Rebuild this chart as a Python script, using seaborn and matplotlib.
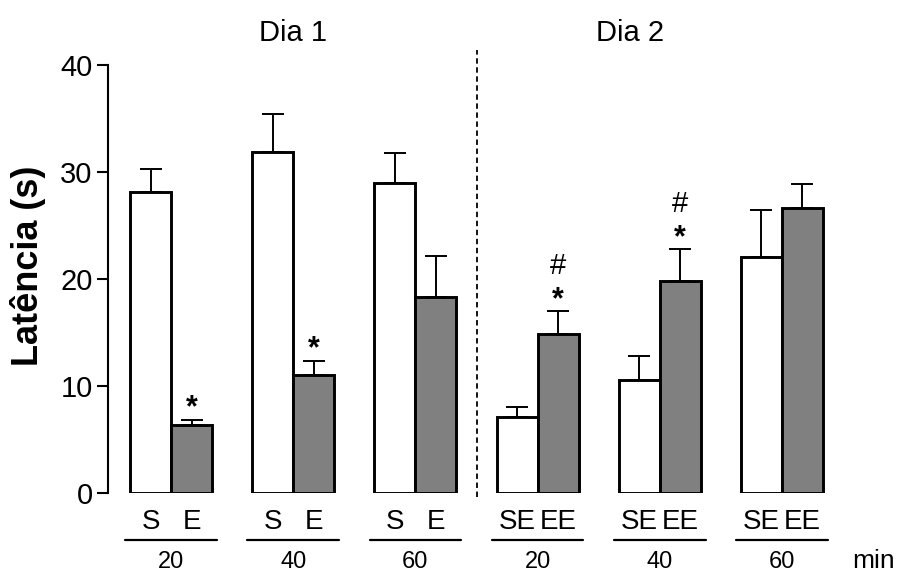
import matplotlib
matplotlib.use("Agg")
import matplotlib.pyplot as plt
import matplotlib.transforms as mtransforms
import seaborn as sns
import pandas as pd
import numpy as np

# ---------------- data ----------------
groups = ["D1-20", "D1-40", "D1-60", "D2-20", "D2-40", "D2-60"]
conditions = ["white", "gray"]
white_means = [28.1, 31.9, 29.0, 7.1, 10.6, 22.1]
white_sem = [2.2, 3.5, 2.8, 0.9, 2.2, 4.35]
gray_means = [6.4, 11.0, 18.35, 14.9, 19.8, 26.6]
gray_sem = [0.45, 1.35, 3.8, 2.1, 3.0, 2.3]
bar_labels_white = ["S", "S", "S", "SE", "SE", "SE"]
bar_labels_gray = ["E", "E", "E", "EE", "EE", "EE"]
time_labels = ["20", "40", "60", "20", "40", "60"]
star_gray = ["*", "*", "", "*", "*", ""]
hash_gray = ["", "", "", "#", "#", ""]
day_titles = ["Dia 1", "Dia 2"]
yticks = [0, 10, 20, 30, 40]

df = pd.DataFrame({
    "group": groups * 2,
    "cond": ["white"] * 6 + ["gray"] * 6,
    "value": white_means + gray_means,
})

sns.set_style("white")
plt.rcParams["font.family"] = ["Liberation Sans", "DejaVu Sans"]
plt.rcParams["text.color"] = "black"
plt.rcParams["axes.labelcolor"] = "black"
plt.rcParams["ytick.color"] = "black"
plt.rcParams["xtick.color"] = "black"

fig = plt.figure(figsize=(9.06, 5.74), dpi=100)
W, H = 906, 574
ax_left, ax_right, ax_bottom, ax_top = 108, 840, 493, 65
ax = fig.add_axes([ax_left / W, (H - ax_bottom) / H,
                   (ax_right - ax_left) / W, (ax_bottom - ax_top) / H])

sns.barplot(data=df, x="group", y="value", hue="cond", order=groups,
            hue_order=conditions, palette={"white": "white", "gray": "#808080"},
            edgecolor="black", linewidth=2.1, width=0.672, errorbar=None,
            legend=False, ax=ax, zorder=3)

# error bars (upper only)
for cont, sem in zip(ax.containers, [white_sem, gray_sem]):
    xs = [p.get_x() + p.get_width() / 2 for p in cont.patches]
    hs = [p.get_height() for p in cont.patches]
    ax.errorbar(xs, hs, yerr=[np.zeros(len(sem)), sem], fmt="none",
                ecolor="black", elinewidth=1.4, capsize=8, capthick=1.4,
                zorder=2)

# significance marks
gray_cont = ax.containers[1]
for i, p in enumerate(gray_cont.patches):
    xc = p.get_x() + p.get_width() / 2
    top = p.get_height() + gray_sem[i]
    if star_gray[i]:
        ax.text(xc, top + 0.3, star_gray[i], ha="center", va="baseline",
                fontsize=22, fontweight="bold")
    if hash_gray[i]:
        ax.text(xc, top + 3.5, hash_gray[i], ha="center", va="baseline",
                fontsize=21)

ax.set_xlim(-0.516, 5.475)
ax.set_ylim(0, 40)
ax.set_yticks(yticks)
ax.set_yticklabels([str(t) for t in yticks], fontsize=21)
ax.set_xticks([])
ax.set_xlabel("")
ax.set_ylabel("Latência (s)", fontsize=26, fontweight="bold")
ax.yaxis.set_label_coords(-0.085, 0.53)
for s in ["top", "right", "bottom"]:
    ax.spines[s].set_visible(False)
ax.spines["left"].set_linewidth(1.5)
ax.spines["left"].set_color("black")
ax.tick_params(axis="y", direction="out", length=8, width=1.5, color="black",
               pad=3, left=True)

# dashed divider
ax.axvline(2.5, ymin=-0.01, ymax=1.035, color="black", linestyle=(0, (3, 2)),
           linewidth=1.3, clip_on=False)

# bottom labels
trans = mtransforms.blended_transform_factory(ax.transData, ax.transAxes)
for i in range(6):
    pw = ax.containers[0].patches[i]
    pg = ax.containers[1].patches[i]
    xw = pw.get_x() + pw.get_width() / 2
    xg = pg.get_x() + pg.get_width() / 2
    xc = (xw + xg) / 2
    ax.text(xw, -0.068, bar_labels_white[i], transform=trans, ha="center",
            va="center", fontsize=20)
    ax.text(xg, -0.068, bar_labels_gray[i], transform=trans, ha="center",
            va="center", fontsize=20)
    ax.plot([xc - 0.375, xc + 0.375], [-0.110, -0.110], transform=trans,
            color="black", linewidth=1.6, clip_on=False)
    ax.text(xc, -0.161, time_labels[i], transform=trans, ha="center",
            va="center", fontsize=17)
ax.text(5.75, -0.159, "min", transform=trans, ha="center", va="center",
        fontsize=19)

# day titles
ax.text(1.0, 1.075, day_titles[0], transform=trans, ha="center", va="center",
        fontsize=21)
ax.text(3.76, 1.075, day_titles[1], transform=trans, ha="center", va="center",
        fontsize=21)

fig.savefig("out.png", dpi=100)
